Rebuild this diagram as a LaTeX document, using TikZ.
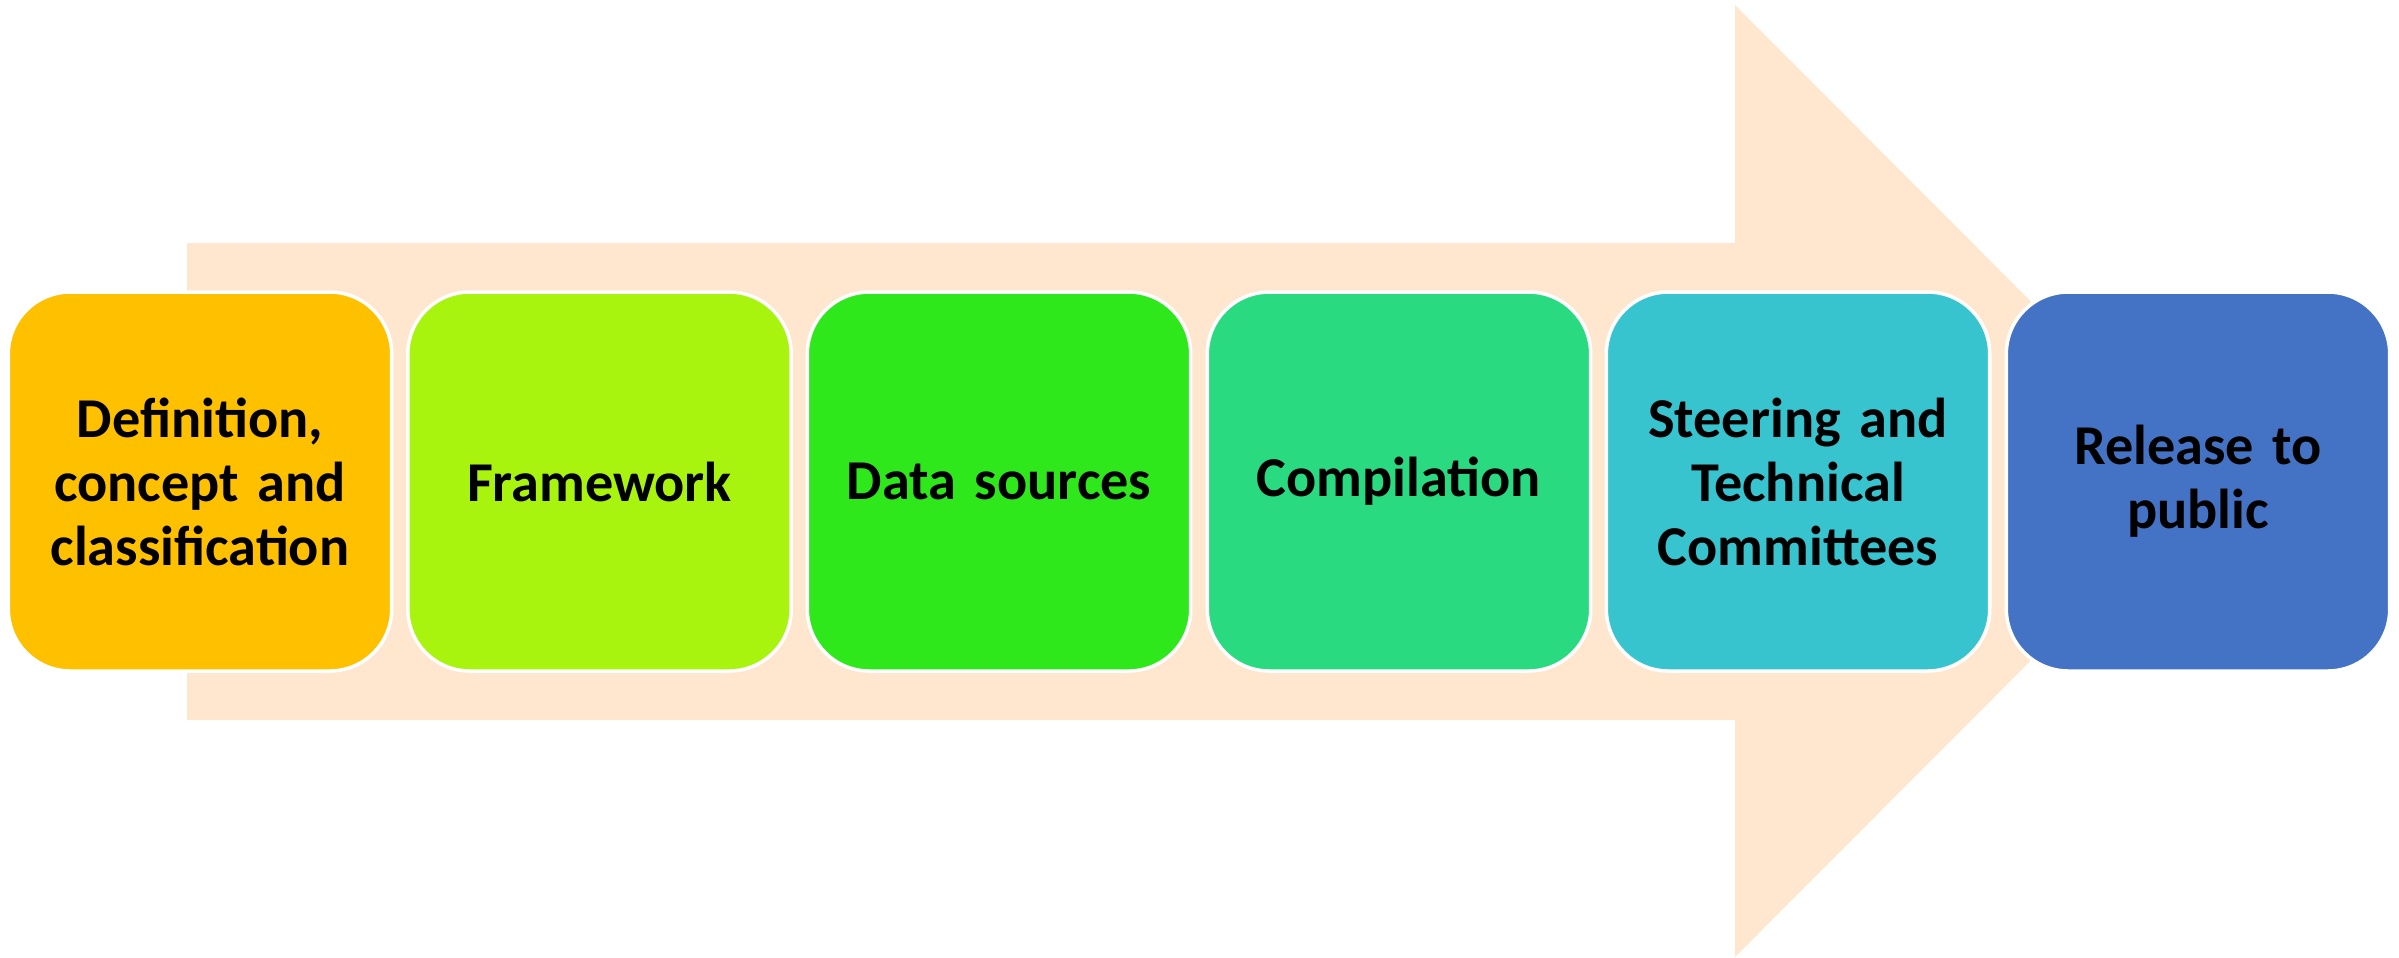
\documentclass[tikz,border=0pt]{standalone}
\usepackage{fontspec}
\setmainfont{Carlito}
\definecolor{peach}{HTML}{FEE7CE}
\definecolor{cAmber}{HTML}{FFC000}
\definecolor{cLime}{HTML}{A8F40E}
\definecolor{cGreen}{HTML}{2EE81C}
\definecolor{cJade}{HTML}{2ADA80}
\definecolor{cTeal}{HTML}{38C4CE}
\definecolor{cBlue}{HTML}{4472C4}
\begin{document}
\begin{tikzpicture}
		    [%%%%%%%%%%%%%%%%%%%%%%%%%%%%%%
		        stage/.style={rectangle,rounded corners=0.62cm,draw=white,line width=1pt,
		            minimum width=3.78cm,minimum height=3.79cm,text width=3.6cm,align=center,
		            font=\bfseries\fontsize{16}{18.2}\selectfont},
		    ]%%%%%%%%%%%%%%%%%%%%%%%%%%%%%%
		\useasboundingbox (0,0) rectangle (23.99,-9.57);
		\fill[peach] (1.87,-2.43) -- (17.35,-2.43) -- (17.35,-0.05) -- (22.10,-4.81)
		    -- (17.35,-9.57) -- (17.35,-7.20) -- (1.87,-7.20) -- cycle;

		\node[stage, fill=cAmber] (define) at (2.00,-4.815) {Definition,\\ concept and\\ classification};
		\node[stage, fill=cLime] (frame) at (5.995,-4.815) {Framework};
		\node[stage, fill=cGreen] (sources) at (9.99,-4.815) {Data sources};
		\node[stage, fill=cJade] (compile) at (13.99,-4.815) {Compilation};
		\node[stage, fill=cTeal] (steer) at (17.98,-4.815) {Steering and\\ Technical\\ Committees};
		\node[stage, fill=cBlue] (release) at (21.98,-4.815) {Release to\\ public};

		\end{tikzpicture}
\end{document}
